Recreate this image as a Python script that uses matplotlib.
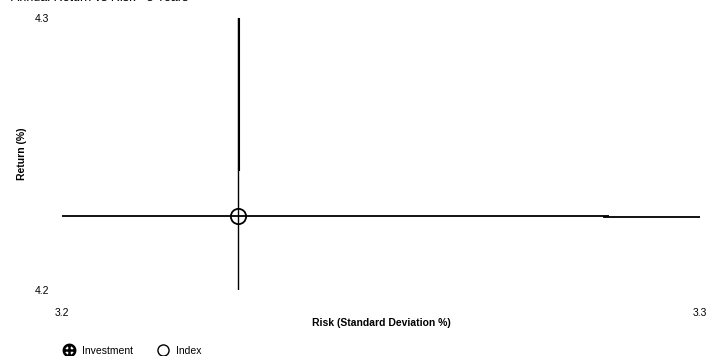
import matplotlib.pyplot as plt
from matplotlib.lines import Line2D

plt.rcParams['font.family'] = ['Liberation Sans', 'DejaVu Sans']

# risk / return of the two series
names = ['Investment', 'Index']
risk = [3.2277, 3.2276]
ret = [4.2273, 4.2272]

x_ticks = [3.2, 3.3]
y_ticks = [4.2, 4.3]

fig = plt.figure(figsize=(7.11, 3.56), dpi=100)
ax = fig.add_axes([62 / 711, 66 / 356, 638 / 711, 272 / 356])
ax.set_xlim(x_ticks[0], x_ticks[1])
ax.set_ylim(y_ticks[0], y_ticks[1])

# crosshair lines through each point
ax.vlines(risk[0], ret[0] + 0.0166, y_ticks[1], color='black', lw=1.5)
ax.hlines(ret[0], x_ticks[0], 3.2857, color='black', lw=1.3)
ax.axvline(risk[1], color='black', lw=1.0)
ax.axhline(ret[1] - 0.0003, xmin=0.85, color='black', lw=1.3)
ax.plot(risk[1], ret[1], 'o', ms=11, mfc='none', mec='black', mew=1.3)

for s in ax.spines.values():
    s.set_visible(False)
ax.set_xticks(x_ticks)
ax.set_yticks(y_ticks)
ax.set_xticklabels([str(v) for v in x_ticks])
ax.set_yticklabels([str(v) for v in y_ticks])
ax.tick_params(axis='x', length=0, pad=13, labelsize=7.5)
ax.tick_params(axis='y', length=0, pad=9, labelsize=7.5)
ax.set_xlabel('Risk (Standard Deviation %)', fontsize=7.5, fontweight='bold', labelpad=0)
ax.set_ylabel('Return (%)', fontsize=7.5, fontweight='bold', labelpad=6)

fig.text(0.015, 1.006, 'Annual Return vs Risk - 3 Years', fontsize=9, va='center')

handles = [
    Line2D([], [], ls='none', marker='$\\bigoplus$', ms=9, color='black'),
    Line2D([], [], ls='none', marker='o', ms=8, mfc='none', mec='black', mew=1.0),
]
fig.legend(handles, names, loc='lower left', bbox_to_anchor=(0.075, -0.025),
           ncol=2, frameon=False, fontsize=7.5, handletextpad=0.7,
           columnspacing=2.2, handlelength=1.2)

fig.savefig('out.png', dpi=100)
